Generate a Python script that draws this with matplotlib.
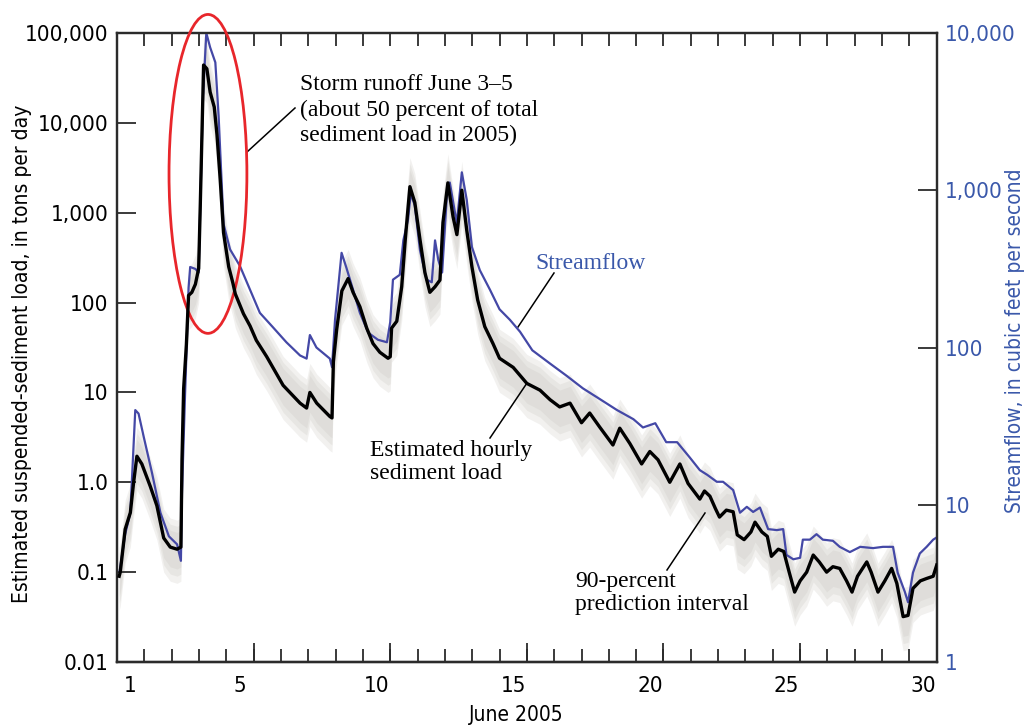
import matplotlib
matplotlib.use('Agg')
import matplotlib.pyplot as plt
from matplotlib import font_manager as fm
from matplotlib.patches import Ellipse
from matplotlib.lines import Line2D
import numpy as np

# procura uma fonte condensada instalada; se nao houver, usa Liberation Sans menor
narrow = [f for f in fm.fontManager.ttflist
          if ('Narrow' in f.name or 'Condensed' in f.name or f.stretch == 'condensed')
          and f.weight in (400, 'normal', 'regular') and f.style == 'normal']
if narrow:
    cond = [narrow[0].name, 'DejaVu Sans']
    stretch = narrow[0].stretch
    fs_tick, fs_lab = 16, 15
else:
    cond = ['Liberation Sans', 'DejaVu Sans']
    stretch = 'normal'
    fs_tick, fs_lab = 14, 13
serif = ['Liberation Serif', 'DejaVu Serif']
plt.rcParams['font.family'] = cond
plt.rcParams['font.stretch'] = stretch

# carga estimada de sedimento (dias desde 1 de junho, toneladas/dia)
t_load = [0.08, 0.12, 0.3, 0.49, 0.61, 0.73, 0.91, 1.22, 1.46, 1.71, 1.95, 2.2, 2.34,
          2.38, 2.44, 2.54, 2.62, 2.74, 2.87, 2.99, 3.05, 3.11, 3.17, 3.29, 3.41,
          3.56, 3.66, 3.78, 3.9, 4.09, 4.24, 4.33, 4.63, 4.87, 5.1, 5.48, 6.08, 6.7,
          6.94, 7.06, 7.31, 7.79, 7.87, 7.92, 8.04, 8.23, 8.46, 8.64, 8.89, 9.14,
          9.37, 9.62, 9.92, 10.0, 10.05, 10.24, 10.42, 10.55, 10.72, 10.9, 11.09,
          11.27, 11.45, 11.64, 11.82, 11.93, 12.11, 12.3, 12.44, 12.62, 12.8, 12.99,
          13.2, 13.46, 13.76, 14.0, 14.5, 15.0, 15.48, 15.85, 16.2, 16.58, 17.0,
          17.3, 17.67, 18.15, 18.4, 18.77, 19.2, 19.5, 19.8, 20.23, 20.6, 20.9,
          21.33, 21.5, 21.7, 21.9, 22.05, 22.3, 22.55, 22.7, 22.95, 23.2, 23.35,
          23.6, 23.8, 23.95, 24.2, 24.4, 24.6, 24.8, 25.0, 25.24, 25.48, 25.7,
          25.97, 26.2, 26.45, 26.7, 26.9, 27.1, 27.44, 27.6, 27.85, 28.1, 28.35,
          28.54, 28.77, 28.95, 29.13, 29.4, 29.63, 29.87, 30.0]
load = [0.09, 0.1, 0.3, 0.46, 1.0, 1.95, 1.6, 0.9, 0.55, 0.24, 0.19, 0.18, 0.19,
        1.8, 11, 34, 120, 130, 160, 240, 1250, 7400, 44000, 40000, 22000,
        15000, 7400, 2300, 600, 250, 166, 125, 75, 55, 38, 25, 12, 7.6,
        6.7, 10, 7.6, 5.4, 5.2, 22, 50, 135, 185, 130, 90, 52,
        35, 28, 24, 25, 52, 62, 150, 500, 1950, 1300, 500,
        215, 130, 150, 178, 780, 2150, 900, 570, 1780, 640, 250,
        107, 54, 35, 24, 19, 12.6, 10.6, 8.3, 6.9, 7.6, 4.6,
        5.9, 4.1, 2.6, 4.0, 2.7, 1.6, 2.2, 1.78, 1.0, 1.6, 0.97,
        0.65, 0.8, 0.7, 0.51, 0.41, 0.49, 0.47, 0.26, 0.23, 0.28, 0.36,
        0.28, 0.25, 0.15, 0.18, 0.17, 0.1, 0.06, 0.08, 0.1, 0.155, 0.13,
        0.1, 0.115, 0.11, 0.08, 0.06, 0.09, 0.13, 0.1, 0.06, 0.08, 0.11,
        0.075, 0.032, 0.033, 0.066, 0.08, 0.085, 0.09, 0.12]

# vazao (pes cubicos por segundo)
t_flow = [0.1, 0.3, 0.49, 0.67, 0.79, 0.98, 1.28, 1.59, 1.9, 2.2, 2.34, 2.38, 2.5,
          2.62, 2.68, 2.87, 2.99, 3.05, 3.15, 3.27, 3.41, 3.6, 3.72, 3.9, 4.14,
          4.5, 4.87, 5.23, 5.7, 6.2, 6.7, 6.94, 7.06, 7.3, 7.79, 7.87, 7.98, 8.22,
          8.4, 8.64, 8.89, 9.2, 9.55, 9.88, 10.0, 10.1, 10.35, 10.48, 10.65, 10.75,
          10.9, 11.09, 11.33, 11.52, 11.64, 11.76, 11.9, 12.07, 12.18, 12.37,
          12.44, 12.62, 12.8, 12.99, 13.28, 13.65, 14.0, 14.38, 14.75, 15.2,
          15.85, 16.46, 17.05, 17.67, 18.3, 18.9, 19.25, 19.7, 20.1, 20.5, 20.96,
          21.33, 21.6, 21.95, 22.18, 22.55, 22.8, 23.05, 23.28, 23.53, 23.83,
          24.15, 24.38, 24.5, 24.75, 25.0, 25.1, 25.36, 25.6, 25.83, 26.2, 26.45,
          26.82, 27.2, 27.67, 28.03, 28.4, 28.57, 28.83, 28.95, 29.13, 29.38,
          29.63, 29.87, 30.0]
flow = [3.8, 6.5, 8.9, 40, 38, 27, 16, 8.9, 6.3, 5.6, 4.4, 12, 56,
        240, 325, 316, 300, 815, 3980, 10000, 8100, 6500, 2960, 610, 420,
        330, 233, 166, 135, 108, 89, 85, 120, 100, 85, 75, 150, 400,
        320, 233, 166, 124, 112, 108, 145, 270, 290, 480, 650, 950,
        800, 415, 270, 260, 480, 360, 300, 910, 1120, 720,
        620, 1300, 870, 435, 310, 233, 175, 150, 126, 96,
        79, 66, 55, 47, 40, 35, 31, 33, 25, 25, 20,
        16.6, 15.5, 14, 14, 12.4, 8.9, 9.7, 9.0, 9.6, 7.0,
        6.9, 7.0, 4.8, 4.5, 4.6, 6.0, 6.0, 6.5, 6.0, 5.9, 5.4,
        5.0, 5.4, 5.3, 5.4, 5.4, 3.7, 2.8, 2.4, 3.7, 4.9,
        5.4, 6.0, 6.2]

# intervalo de previsao de 90% (meia largura em decadas, camadas p/ borrar)
pi_half_widths = [0.38, 0.3, 0.22]

left_ticks = [0.01, 0.1, 1, 10, 100, 1000, 10000, 100000]
left_labels = ['0.01', '0.1', '1.0', '10', '100', '1,000', '10,000', '100,000']
right_ticks = [1, 10, 100, 1000, 10000]
right_labels = ['1', '10', '100', '1,000', '10,000']
day_labels = ['1', '5', '10', '15', '20', '25', '30']
day_label_pos = [0.5, 4.5, 9.5, 14.5, 19.5, 24.5, 29.5]

blue = '#4448a6'
blue_txt = '#3a58aa'
dark = '#2b2b2b'

fig = plt.figure(figsize=(10.26, 7.27), dpi=100)
ax = fig.add_axes([0.114, 0.0894, 0.799, 0.8652])
ax2 = ax.twinx()   # vazao
ax3 = ax.twinx()   # linha preta por cima
ax.set_zorder(1)
ax2.set_zorder(2)
ax3.set_zorder(3)

t_arr = np.array(t_load)
l_arr = np.array(load)
for w in pi_half_widths:
    ax.fill_between(t_arr, l_arr / 10 ** w, l_arr * 10 ** (w * 0.85),
                    color='#c4c0ba', alpha=0.22, lw=0, antialiased=False)

ax2.plot(t_flow, flow, color=blue, lw=1.6)
ax3.plot(t_load, load, color='black', lw=2.4)

for a in (ax, ax3):
    a.set_yscale('log')
    a.set_ylim(0.01, 100000)
ax2.set_yscale('log')
ax2.set_ylim(1, 10000)
for a in (ax, ax2, ax3):
    a.set_xlim(0, 30)

ax.set_yticks(left_ticks, left_labels)
ax.yaxis.set_minor_locator(matplotlib.ticker.NullLocator())
ax.tick_params(axis='y', direction='in', length=13.5, width=1.3, pad=6,
               labelsize=fs_tick, color=dark)
ax2.set_yticks(right_ticks, right_labels)
ax2.yaxis.set_minor_locator(matplotlib.ticker.NullLocator())
ax2.tick_params(axis='y', direction='in', length=14, width=1.3, pad=6,
                labelsize=fs_tick, labelcolor=blue_txt, color=dark)
ax3.axis('off')

ax.set_xticks(day_label_pos, day_labels)
ax.set_xticks(range(1, 30), minor=True)
ax.tick_params(axis='x', which='major', length=0, pad=10, labelsize=fs_tick)
ax.tick_params(axis='x', which='minor', direction='in', length=9.5, width=1.3,
               top=True, bottom=True, color=dark)
sec = ax.secondary_xaxis('bottom')
sec.set_xticks([5, 10, 15, 20, 25])
sec.tick_params(direction='in', length=13.5, width=1.3, labelbottom=False, color=dark)

for a in (ax, ax2, sec):
    for s in a.spines.values():
        s.set_color(dark)
        s.set_linewidth(1.6)

# elipse vermelha em torno da cheia
ax3.add_patch(Ellipse((0.111, 0.776), 0.095, 0.507, transform=ax3.transAxes,
                      fill=False, edgecolor='#e8262b', lw=2.0, clip_on=False))

# rotulos
fig.text(22 / 1026, 0.513, 'Estimated suspended-sediment load, in tons per day',
         rotation=90, ha='center', va='center', fontsize=fs_lab)
fig.text(1015 / 1026, 0.532, 'Streamflow, in cubic feet per second',
         rotation=90, ha='center', va='center', fontsize=fs_lab, color=blue_txt)
fig.text(516 / 1026, 0.0165, 'June 2005', ha='center', va='center', fontsize=fs_lab)

fig.text(300 / 1026, 1 - 110 / 727,
         'Storm runoff June 3–5\n(about 50 percent of total\nsediment load in 2005)',
         family=serif, fontsize=17, va='center', linespacing=1.25)
fig.text(535 / 1026, 1 - 263 / 727, 'Streamflow', family=serif, fontsize=17,
         va='center', color=blue_txt)
fig.text(370 / 1026, 1 - 462 / 727, 'Estimated hourly\nsediment load',
         family=serif, fontsize=17, va='center', linespacing=1.1)
fig.text(575 / 1026, 1 - 593 / 727, '90-percent\nprediction interval',
         family=serif, fontsize=17, va='center', linespacing=1.1)

# linhas de chamada (pixels da figura)
leaders = [((247, 152), (295, 108)), ((554, 273), (518, 327)),
           ((490, 438), (527, 383)), ((667, 570), (705, 513))]
for (x0, y0), (x1, y1) in leaders:
    fig.add_artist(Line2D([x0 / 1026, x1 / 1026], [1 - y0 / 727, 1 - y1 / 727],
                          transform=fig.transFigure, color='black', lw=1.1))

fig.savefig('out.png', dpi=100)
